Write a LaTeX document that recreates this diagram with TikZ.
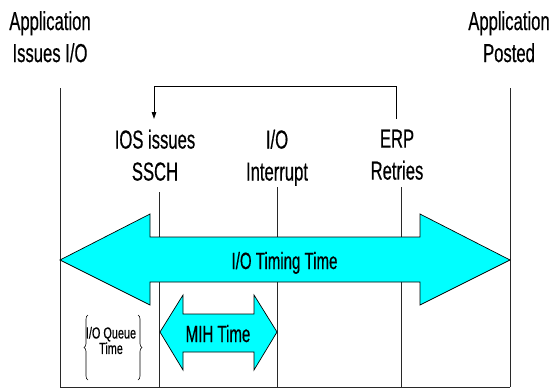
\documentclass[tikz,border=0pt]{standalone}
\usepackage{fontspec}
\setmainfont{Liberation Sans}[FakeStretch=0.64, FakeBold=0.4]
\newfontfamily\smallfam{Liberation Sans}[FakeStretch=0.68, FakeBold=0.4]
\usetikzlibrary{arrows.meta,decorations.pathreplacing}
\definecolor{aqua}{RGB}{0,255,255}
\definecolor{rulegray}{RGB}{40,40,40}
\tikzset{
  event/.style={align=center, inner sep=0pt, anchor=north, font=\fontsize{26}{32}\selectfont},
  span/.style={inner sep=0pt, anchor=base, font=\fontsize{23.5}{27}\selectfont},
  queue/.style={align=center, inner sep=0pt, font=\smallfam\fontsize{16}{15.5}\selectfont},
  rule/.style={draw=rulegray, line width=1pt},
  timearrow/.style={draw=black, line width=0.7pt, fill=aqua, line join=miter},
  feedback/.style={draw=black, line width=0.8pt, -{Triangle[length=7pt,width=4.5pt]}},
  curly/.style={draw=black, line width=0.6pt, decorate, decoration={brace, amplitude=4pt}}
}
\begin{document}
\begin{tikzpicture}[x=1pt, y=-1pt]
\useasboundingbox (0,0) rectangle (553,388);

% event labels
\node[event] (issue)  at (50,11)  {Application\\Issues I/O};
\node[event] (posted) at (509,11) {Application\\Posted};
\node[event] (ssch)   at (155,129.5) {IOS issues\\SSCH};
\node[event] (intr)   at (277,129.5) {I/O\\Interrupt};
\node[event] (erp)    at (397,129.5) {ERP\\Retries};

% time lines
\draw[rule] (60,88) -- (60,387);
\draw[rule] (159,192) -- (159,387);
\draw[rule] (277,187) -- (277,387);
\draw[rule] (401,187) -- (401,387);
\draw[rule] (510,88) -- (510,387);
\draw[rule] (60,387) -- (510,387);

% retry loop back to the start I/O
\coordinate (retryout) at (396,119);
\coordinate (retryin)  at (154,119);
\draw[feedback] (retryout) -- ++(0,-33) -| (retryin);

% total I/O timing span
\draw[timearrow] (60,260) -- (150,214) -- (150,237) -- (420,237) -- (420,214)
  -- (510,260) -- (420,305) -- (420,282) -- (150,282) -- (150,305) -- cycle;
\node[span] (iotime) at (284.5,269) {I/O Timing Time};

% MIH span
\draw[timearrow] (160,332) -- (183,295) -- (183,314) -- (254,314) -- (254,295)
  -- (277,332) -- (254,370) -- (254,352) -- (183,352) -- (183,370) -- cycle;
\node[span] (mih) at (218,342) {MIH Time};

% queue time between braces
\node[queue] (qtime) at (111,340.5) {I/O Queue\\Time};
\draw[curly] (88,380) -- (88,315);
\draw[curly] (138,315) -- (138,380);
\end{tikzpicture}
\end{document}
